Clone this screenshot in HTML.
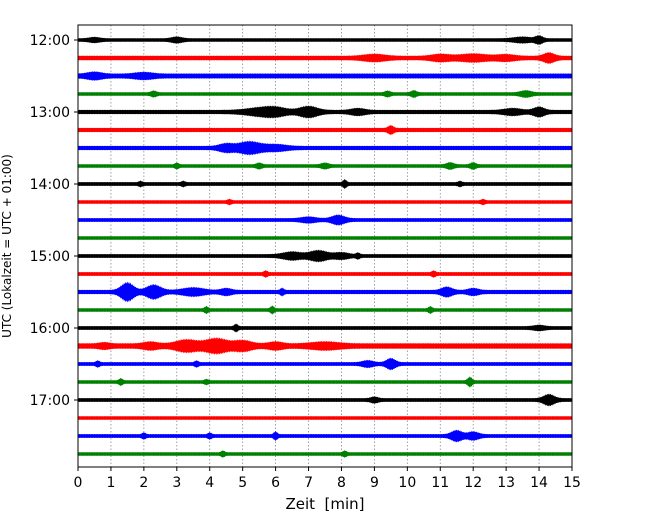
<!DOCTYPE html>
<html><head><meta charset="utf-8"><style>
body{margin:0;background:#fff;}
svg text{font-family:"DejaVu Sans","Liberation Sans",sans-serif;}
</style></head><body>
<svg id="c" width="650" height="520"></svg>
<script>
const traceLabels=["12:00","","","","13:00","","","","14:00","","","","15:00","","","","16:00","","","","17:00","","",""];
const traceColors=["#000000","#ff0000","#0000ff","#008000"];
const baseAmp=[1.6,2.1,2.3,1.6,1.9,1.9,1.9,1.6,1.7,1.6,1.7,1.6,1.7,1.7,1.9,1.6,1.7,2.5,1.7,1.6,1.7,1.6,1.7,1.6];
const traceEvents=[
[[3,2.5,0.3],[0.5,2,0.3],[13.5,2.5,0.5],[14,4,0.2]],
[[9,3,0.6],[11,3,0.5],[12,3.5,0.8],[13,2.5,0.5],[14.3,5,0.3]],
[[0.5,3,0.4],[2,2.5,0.5]],
[[2.3,2.5,0.15],[9.4,2.5,0.15],[10.2,3,0.15],[13.6,3,0.3]],
[[5.5,3.5,0.8],[7,6,0.5],[6,4,0.6],[8.5,3,0.4],[14,5,0.3],[13.2,3,0.5]],
[[9.5,4,0.15]],
[[5.2,7,0.6],[4.5,4,0.4],[6,3,0.6]],
[[3,2.5,0.1],[5.5,2.5,0.15],[7.5,2.5,0.2],[11.3,3,0.2],[12,3,0.15]],
[[8.1,4,0.1],[1.9,2,0.1],[3.2,2,0.1],[11.6,2,0.1]],
[[4.6,2,0.1],[12.3,2,0.1]],
[[7.9,5,0.35],[7,2.5,0.4]],
[],
[[7.3,6,0.5],[6.5,4,0.5],[8,3,0.4],[8.5,2.5,0.1]],
[[5.7,2.5,0.1],[10.8,2.5,0.1]],
[[1.5,11,0.35],[2.3,8,0.4],[3.5,4,0.6],[4.5,3,0.3],[6.2,3,0.1],[11.2,5,0.3],[12,3,0.3]],
[[3.9,3,0.1],[5.9,3.5,0.1],[10.7,3,0.1]],
[[4.8,3.5,0.1],[14,2,0.3]],
[[3.3,6,0.6],[4.2,8,0.6],[5,5,0.5],[2.2,3,0.4],[6,3,0.4],[7.5,3,0.8],[0.8,2,0.3]],
[[9.5,6,0.25],[8.8,3,0.3],[0.6,2.5,0.1],[3.6,2.5,0.1]],
[[1.3,3,0.1],[11.9,5,0.12],[3.9,2,0.1]],
[[14.3,6,0.3],[9,2.5,0.2]],
[],
[[6,4,0.1],[11.5,6,0.3],[12,4,0.3],[2,2.5,0.1],[4,2.5,0.1]],
[[4.4,2.5,0.1],[8.1,2.5,0.1]]
];
const xTicks=[0,1,2,3,4,5,6,7,8,9,10,11,12,13,14,15];
const L=78,R=572,T=25,B=467;
const AMP_SCALE=0.7,WIDTH_SCALE=0.5;
const X=m=>L+(R-L)*m/15;
const Y=i=>40+18*i;
const svg=document.getElementById('c');
const NS="http://www.w3.org/2000/svg";
function mk(t,a,p){const e=document.createElementNS(NS,t);for(const k in a)e.setAttribute(k,a[k]);(p||svg).appendChild(e);return e;}
xTicks.forEach(t=>{if(t>0&&t<15){const g=mk('line',{x1:X(t),x2:X(t),y1:T,y2:B,stroke:'#888','stroke-width':0.8,'stroke-dasharray':'1.5,2'});

}});
const defs=mk('defs',{});const cp=mk('clipPath',{id:'clip'},defs);mk('rect',{x:L,y:T,width:R-L,height:B-T},cp);
const gT=mk('g',{'clip-path':'url(#clip)'});
traceLabels.forEach((lab,i)=>{
  const up=[],dn=[];
  for(let k=0;k<=900;k++){const m=k*15/900;let a=baseAmp[i];
    traceEvents[i].forEach(ev=>{const d=(m-ev[0])/(ev[2]*WIDTH_SCALE);a+=ev[1]*AMP_SCALE*Math.exp(-d*d/2);});
    const j=(k%3===0)?1:((k%3===1)?0.8:0.9);
    up.push(X(m).toFixed(1)+','+(Y(i)-a*j).toFixed(1));dn.unshift(X(m).toFixed(1)+','+(Y(i)+a*j).toFixed(1));}
  const p=mk('polygon',{points:up.concat(dn).join(' '),fill:traceColors[i%4],stroke:traceColors[i%4],'stroke-width':0.6},gT);
  
  
  if(lab){mk('line',{x1:L-4,x2:L,y1:Y(i),y2:Y(i),stroke:'#000'});
    const t=mk('text',{x:L-8,y:Y(i)+5,'text-anchor':'end','font-size':14});t.textContent=lab;
    
    }
});
const fr=mk('rect',{x:L,y:T,width:R-L,height:B-T,fill:'none',stroke:'#000','stroke-width':1});


xTicks.forEach(t=>{mk('line',{x1:X(t),x2:X(t),y1:B,y2:B+4,stroke:'#000'});
  const e=mk('text',{x:X(t),y:B+20,'text-anchor':'middle','font-size':14});e.textContent=t;
  
  });
const xt=mk('text',{x:(L+R)/2,y:509,'text-anchor':'middle','font-size':15});xt.textContent='Zeit\u00a0\u00a0[min]';


const yt=mk('text',{x:0,y:0,'text-anchor':'middle','font-size':12,transform:'translate(11,246) rotate(-90)'});yt.textContent='UTC (Lokalzeit = UTC + 01:00)';


</script>
</body></html>
